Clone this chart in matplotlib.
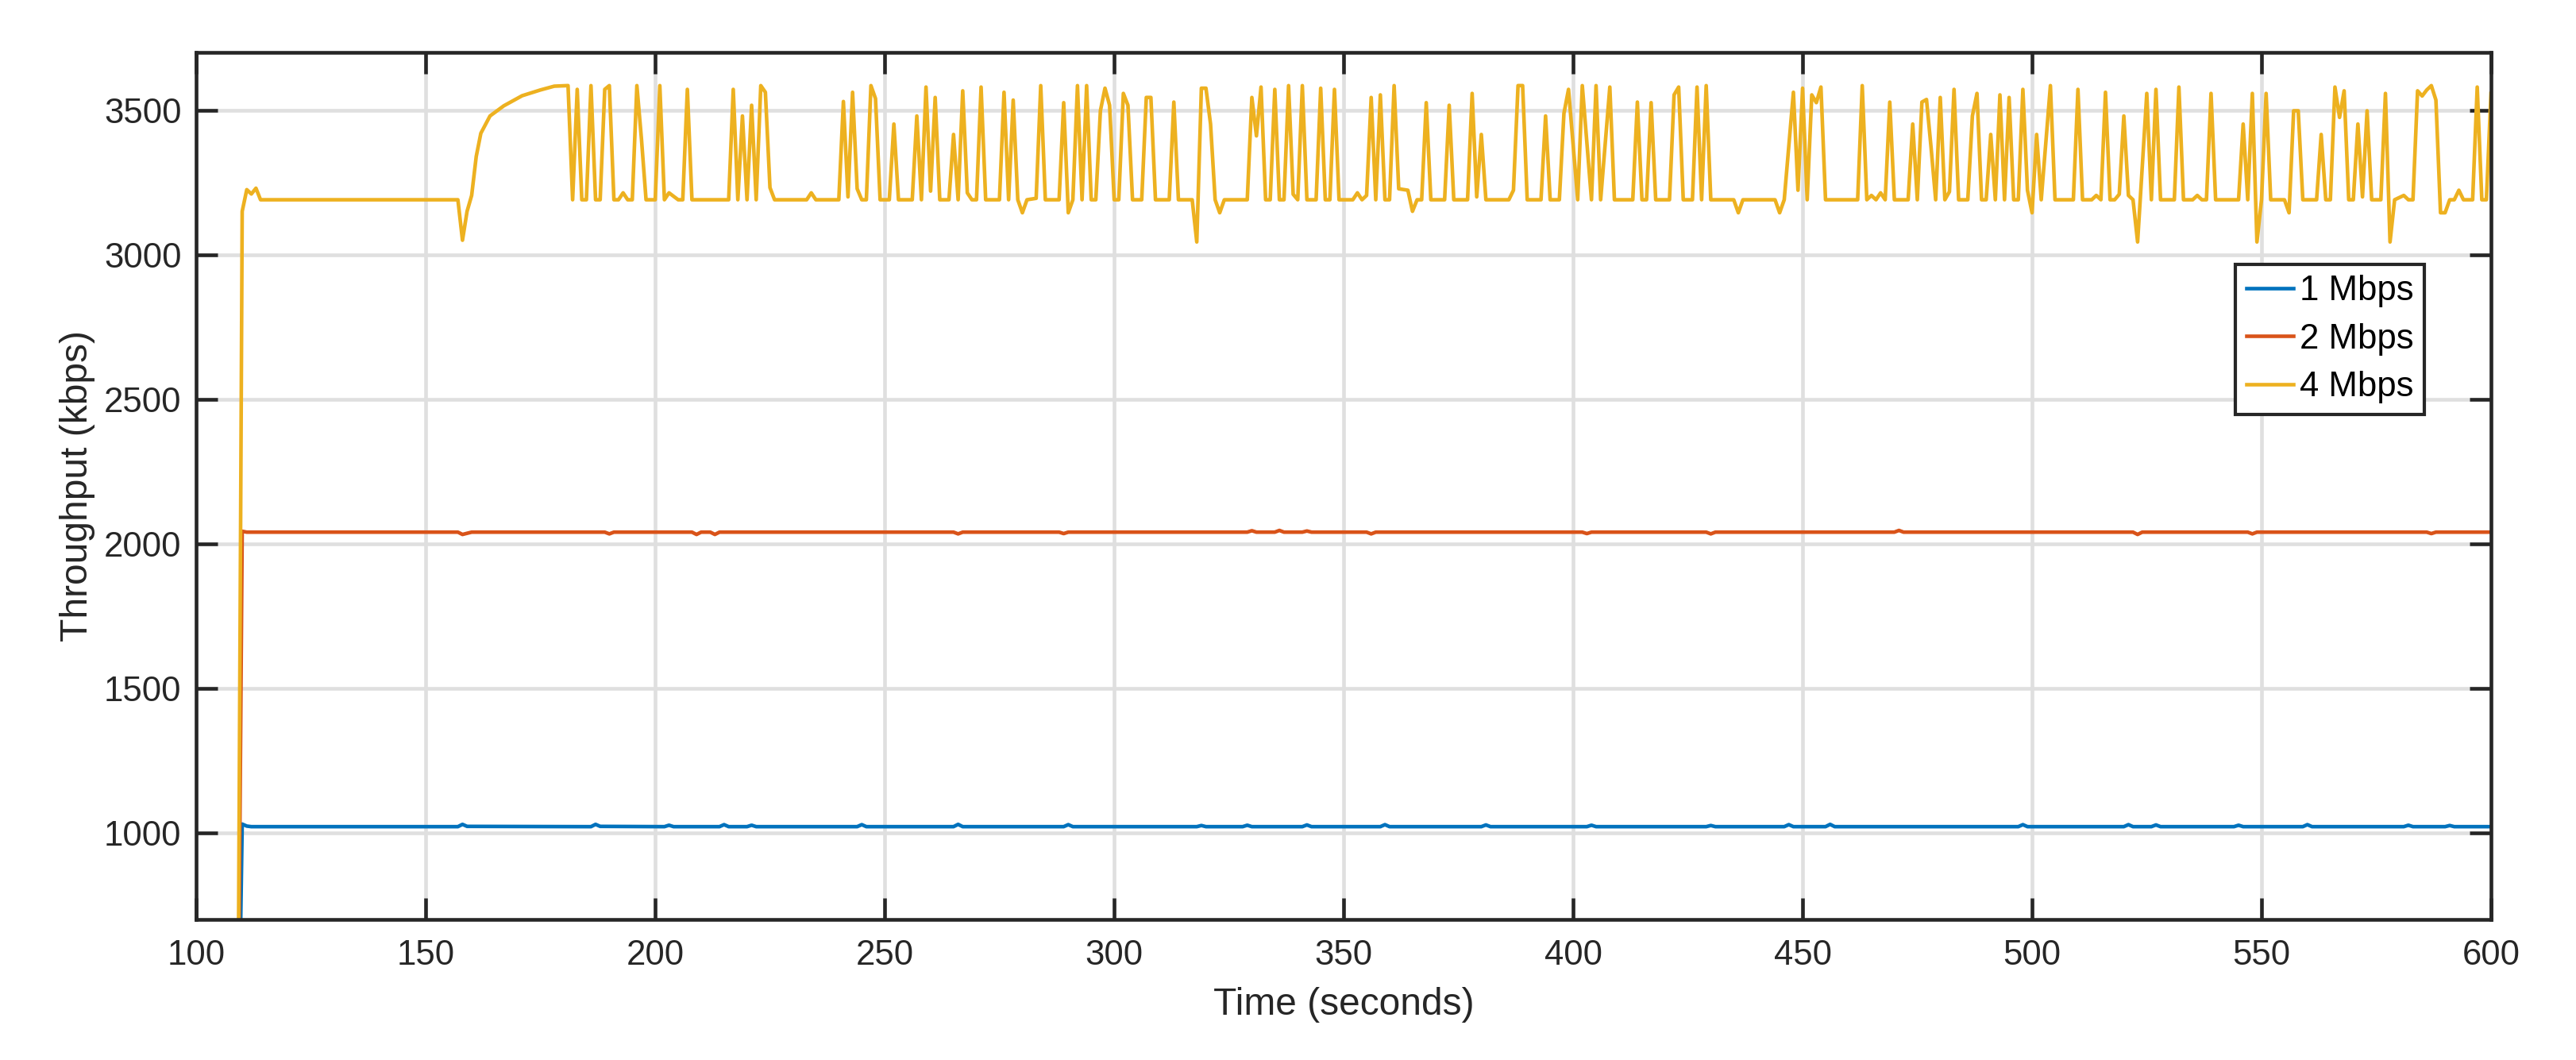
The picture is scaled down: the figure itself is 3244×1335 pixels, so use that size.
import matplotlib
matplotlib.use("Agg")
import matplotlib.pyplot as plt

plt.rcParams['font.family'] = ['Liberation Sans', 'DejaVu Sans']

# 1 Mbps run (time in s, throughput in kbps)
t_1mbps = [109, 110, 111, 112, 157, 158, 159, 186, 187, 188, 202, 203, 204, 214, 215, 216,
           220, 221, 222, 244, 245, 246, 265, 266, 267, 289, 290, 291, 318, 319, 320, 328, 329, 330,
           341, 342, 343, 358, 359, 360, 380, 381, 382, 403, 404, 405, 429, 430, 431, 446, 447, 448,
           455, 456, 457, 497, 498, 499, 520, 521, 522, 526, 527, 528, 544, 545, 546, 559, 560, 561,
           581, 582, 583, 590, 591, 592, 600]
v_1mbps = [0, 1030, 1023, 1021, 1021, 1029, 1022, 1021, 1029, 1022, 1021, 1026, 1021, 1021, 1028, 1021,
           1021, 1026, 1021, 1021, 1028, 1021, 1021, 1029, 1021, 1021, 1028, 1021, 1021, 1025, 1021, 1021, 1026, 1021,
           1021, 1027, 1021, 1021, 1028, 1021, 1021, 1027, 1021, 1021, 1026, 1021, 1021, 1025, 1021, 1021, 1028, 1021,
           1021, 1029, 1021, 1021, 1028, 1021, 1021, 1028, 1021, 1021, 1027, 1021, 1021, 1026, 1021, 1021, 1028, 1021,
           1021, 1026, 1021, 1021, 1025, 1021, 1021]

# 2 Mbps run
t_2mbps = [109, 110, 111, 112, 157, 158, 159, 160, 189, 190, 191, 208, 209, 210, 212, 213, 214,
           265, 266, 267, 288, 289, 290, 329, 330, 331, 335, 336, 337, 341, 342, 343, 355, 356, 357,
           402, 403, 404, 429, 430, 431, 470, 471, 472, 522, 523, 524, 547, 548, 549, 586, 587, 588, 600]
v_2mbps = [0, 2043, 2040, 2040, 2040, 2032, 2036, 2040, 2040, 2034, 2040, 2040, 2032, 2040, 2040, 2032, 2040,
           2040, 2034, 2040, 2040, 2035, 2040, 2040, 2045, 2040, 2040, 2046, 2040, 2040, 2044, 2040, 2040, 2034, 2040,
           2040, 2035, 2040, 2040, 2034, 2040, 2040, 2046, 2040, 2040, 2032, 2040, 2040, 2034, 2040, 2040, 2035, 2040, 2040]

# 4 Mbps run
t_4mbps = [109, 110, 111, 112, 113, 114, 157, 158, 159, 160, 161, 162, 164, 167, 171, 175, 178, 181,
           182, 183, 184, 185, 186, 187, 188, 189, 190, 191, 192, 193, 194, 195, 196, 197, 198, 200,
           201, 202, 203, 205, 206, 207, 208, 216, 217, 218, 219, 220, 221, 222, 223, 224, 225, 226,
           233, 234, 235, 240, 241, 242, 243, 244, 245, 246, 247, 248, 249, 251, 252, 253, 256, 257,
           258, 259, 260, 261, 262, 264, 265, 266, 267, 268, 269, 270, 271, 272, 275, 276, 277, 278,
           279, 280, 281, 283, 284, 285, 288, 289, 290, 291, 292, 293, 294, 295, 296, 297, 298, 299,
           300, 301, 302, 303, 304, 306, 307, 308, 309, 312, 313, 314, 317, 318, 319, 320, 321, 322,
           323, 324, 329, 330, 331, 332, 333, 334, 335, 336, 337, 338, 339, 340, 341, 342, 344, 345,
           346, 347, 348, 349, 352, 353, 354, 355, 356, 357, 358, 359, 360, 361, 362, 364, 365, 366,
           367, 368, 369, 372, 373, 374, 377, 378, 379, 380, 381, 386, 387, 388, 389, 390, 393, 394,
           395, 397, 398, 399, 401, 402, 404, 405, 406, 408, 409, 413, 414, 415, 416, 417, 418, 421,
           422, 423, 424, 426, 427, 428, 429, 430, 435, 436, 437, 444, 445, 446, 448, 449, 450, 451,
           452, 453, 454, 455, 459, 462, 463, 464, 465, 466, 467, 468, 469, 470, 473, 474, 475, 476,
           477, 478, 479, 480, 481, 482, 483, 484, 486, 487, 488, 489, 490, 491, 492, 493, 494, 495,
           496, 497, 498, 499, 500, 501, 502, 504, 505, 509, 510, 511, 513, 514, 515, 516, 517, 518,
           519, 520, 521, 522, 523, 525, 526, 527, 528, 531, 532, 533, 535, 536, 537, 538, 539, 540,
           545, 546, 547, 548, 549, 550, 551, 552, 555, 556, 557, 558, 559, 562, 563, 564, 565, 566,
           567, 568, 569, 570, 571, 572, 573, 574, 576, 577, 578, 579, 581, 582, 583, 584, 585, 586,
           587, 588, 589, 590, 591, 592, 593, 594, 596, 597, 598, 599, 600]
v_4mbps = [0, 3150, 3225, 3210, 3230, 3190, 3190, 3050, 3150, 3205, 3340, 3420, 3480, 3515, 3550, 3570, 3583, 3585,
           3190, 3572, 3190, 3190, 3585, 3190, 3190, 3572, 3585, 3190, 3190, 3214, 3190, 3190, 3585, 3400, 3190, 3190,
           3585, 3190, 3214, 3190, 3190, 3572, 3190, 3190, 3572, 3190, 3480, 3190, 3517, 3190, 3585, 3562, 3232, 3190,
           3190, 3214, 3190, 3190, 3530, 3200, 3562, 3228, 3190, 3190, 3585, 3540, 3190, 3190, 3452, 3190, 3190, 3480,
           3190, 3580, 3220, 3544, 3190, 3190, 3416, 3190, 3567, 3214, 3190, 3190, 3580, 3190, 3190, 3562, 3190, 3535,
           3190, 3145, 3190, 3195, 3585, 3190, 3190, 3526, 3145, 3190, 3585, 3190, 3585, 3190, 3190, 3498, 3576, 3517,
           3190, 3190, 3558, 3517, 3190, 3190, 3544, 3544, 3190, 3190, 3528, 3190, 3190, 3044, 3576, 3576, 3452, 3190,
           3145, 3190, 3190, 3544, 3411, 3580, 3190, 3190, 3572, 3190, 3190, 3585, 3209, 3190, 3585, 3190, 3190, 3576,
           3190, 3190, 3572, 3190, 3190, 3214, 3190, 3205, 3544, 3190, 3553, 3190, 3190, 3585, 3228, 3223, 3150, 3190,
           3190, 3526, 3190, 3190, 3517, 3190, 3190, 3558, 3200, 3416, 3190, 3190, 3223, 3585, 3585, 3190, 3190, 3480,
           3190, 3190, 3489, 3572, 3190, 3585, 3190, 3585, 3190, 3580, 3190, 3190, 3528, 3190, 3190, 3526, 3190, 3190,
           3553, 3580, 3190, 3190, 3580, 3190, 3585, 3190, 3190, 3145, 3190, 3190, 3145, 3190, 3562, 3223, 3576, 3190,
           3553, 3526, 3580, 3190, 3190, 3190, 3585, 3190, 3205, 3190, 3214, 3190, 3528, 3190, 3190, 3452, 3190, 3528,
           3537, 3370, 3190, 3544, 3190, 3218, 3572, 3190, 3190, 3480, 3558, 3190, 3190, 3416, 3190, 3553, 3190, 3544,
           3190, 3190, 3572, 3223, 3145, 3416, 3190, 3585, 3190, 3190, 3572, 3190, 3190, 3205, 3190, 3562, 3190, 3190,
           3209, 3480, 3205, 3190, 3044, 3558, 3190, 3572, 3190, 3190, 3580, 3190, 3190, 3205, 3190, 3190, 3558, 3190,
           3190, 3452, 3190, 3558, 3044, 3190, 3558, 3190, 3190, 3145, 3498, 3498, 3190, 3190, 3416, 3190, 3190, 3580,
           3475, 3567, 3190, 3190, 3452, 3200, 3498, 3190, 3190, 3558, 3044, 3190, 3205, 3190, 3190, 3567, 3549, 3570,
           3585, 3535, 3145, 3145, 3190, 3190, 3223, 3190, 3190, 3580, 3190, 3190, 3558]

labels = ['1 Mbps', '2 Mbps', '4 Mbps']
colors = ['#0072BD', '#D95319', '#EDB120']
axis_col = '#262626'

fig = plt.figure(figsize=(3244 / 300, 1335 / 300), dpi=300)
ax = fig.add_axes([0.0762, 0.1326, 0.8908, 0.8180])

ax.plot(t_1mbps, v_1mbps, color=colors[0], lw=1.1, label=labels[0])
ax.plot(t_2mbps, v_2mbps, color=colors[1], lw=1.1, label=labels[1])
ax.plot(t_4mbps, v_4mbps, color=colors[2], lw=1.1, label=labels[2])

ax.set_xlim(100, 600)
ax.set_ylim(700, 3700)
ax.set_xticks(range(100, 601, 50))
ax.set_yticks(range(1000, 3501, 500))

ax.grid(True, color='#dfdfdf', lw=1.1)
ax.set_axisbelow(True)
for sp in ax.spines.values():
    sp.set_color(axis_col)
    sp.set_linewidth(1.1)
ax.tick_params(direction='in', length=6.5, width=1.1, color=axis_col,
               labelcolor=axis_col, labelsize=10.5, top=True, right=True)
ax.tick_params(axis='x', pad=6)
ax.tick_params(axis='y', pad=4.5)

ax.set_xlabel('Time (seconds)', fontsize=11.5, color=axis_col, labelpad=4.5)
ax.set_ylabel('Throughput (kbps)', fontsize=11.5, color=axis_col, labelpad=2.6)

leg = ax.legend(loc='upper right', bbox_to_anchor=(0.971, 0.7555), borderaxespad=0,
                fontsize=10.5, fancybox=False, framealpha=1, edgecolor=axis_col,
                handlelength=1.35, handletextpad=0.2, labelspacing=0.45, borderpad=0.3)
leg.get_frame().set_linewidth(1.0)
for line in leg.get_lines():
    line.set_linewidth(1.1)

fig.savefig('out.png', dpi=300)
